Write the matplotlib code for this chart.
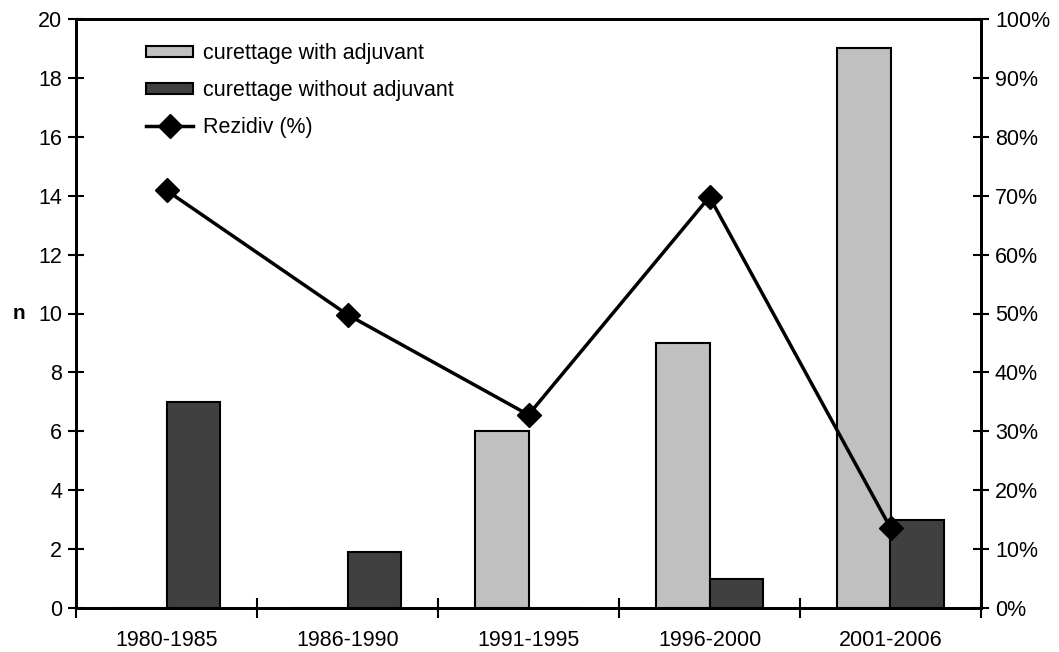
import numpy as np
import matplotlib
matplotlib.use("Agg")
import matplotlib.pyplot as plt

plt.rcParams["font.family"] = ["Liberation Sans", "DejaVu Sans"]

periods = ["1980-1985", "1986-1990", "1991-1995", "1996-2000", "2001-2006"]
with_adjuvant = [0, 0, 6, 9, 19]
without_adjuvant = [7, 1.9, 0, 1, 3]
rezidiv_pct = [70.9, 49.8, 32.8, 69.8, 13.6]

fig = plt.figure(figsize=(10.59, 6.52), dpi=100)
ax = fig.add_axes([76 / 1059, 1 - 608 / 652, (981 - 76) / 1059, (608 - 19) / 652])

x = np.arange(len(periods))
width = 0.293
ax.bar(x - width / 2, with_adjuvant, width, color="#c0c0c0", edgecolor="black",
       linewidth=1.5, label="curettage with adjuvant", zorder=2)
ax.bar(x + width / 2, without_adjuvant, width, color="#404040", edgecolor="black",
       linewidth=1.5, label="curettage without adjuvant", zorder=2)

ax.set_xlim(-0.5, len(periods) - 0.5)
ax.set_ylim(0, 20)
ax.set_yticks(range(0, 21, 2))
ax.set_xticks(np.arange(-0.5, len(periods), 1.0))
ax.set_xticklabels([])
ax.set_xticks(x, minor=True)
ax.set_xticklabels(periods, minor=True)
ax.tick_params(axis="x", which="major", direction="inout", length=14, width=1.5)
ax.tick_params(axis="x", which="minor", length=0, pad=16, labelsize=15.5)
ax.tick_params(axis="y", direction="inout", length=12, width=1.5, labelsize=15.5, pad=4)
ax.set_ylabel("n", rotation=0, fontsize=15, fontweight="bold", labelpad=14, va="center")
for s in ax.spines.values():
    s.set_linewidth(2)

ax2 = ax.twinx()
ax2.plot(x, rezidiv_pct, color="black", linewidth=2.5, marker="D", markersize=12,
         label="Rezidiv (%)", zorder=3)
ax2.set_ylim(0, 100)
ax2.set_yticks(range(0, 101, 10))
ax2.set_yticklabels([f"{v}%" for v in range(0, 101, 10)])
ax2.tick_params(axis="y", direction="inout", length=12, width=1.5, labelsize=15.5, pad=4)
for s in ax2.spines.values():
    s.set_linewidth(2)

h1, l1 = ax.get_legend_handles_labels()
h2, l2 = ax2.get_legend_handles_labels()
leg = ax2.legend(h1 + h2, l1 + l2, loc="upper left", bbox_to_anchor=(0.056, 0.992),
                 frameon=False, fontsize=15.5, handlelength=2.2, handleheight=0.45,
                 handletextpad=0.45, labelspacing=0.74)

fig.savefig("out.png", dpi=100)
